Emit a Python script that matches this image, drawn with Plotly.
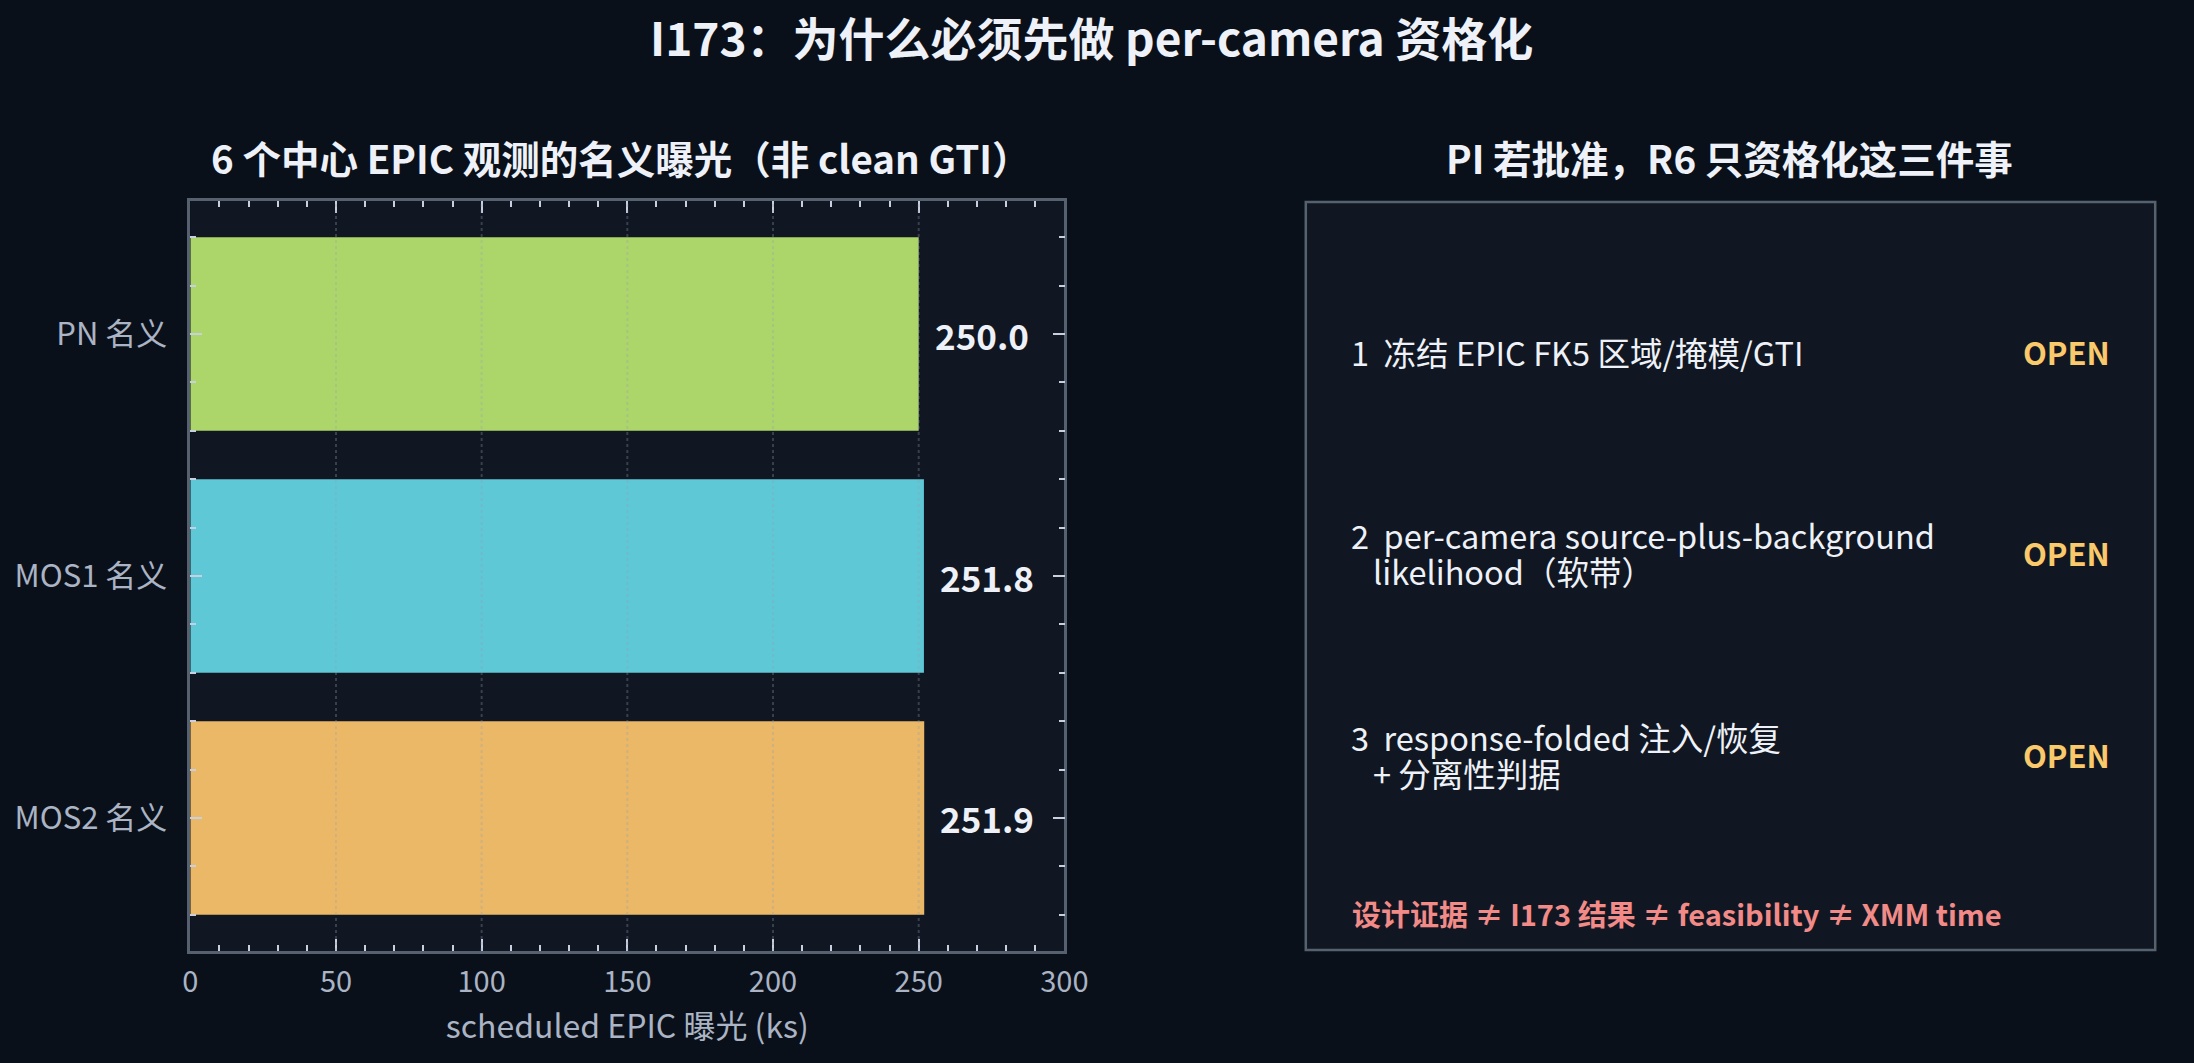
import plotly.graph_objects as go

# left panel data
cameras = ['PN 名义', 'MOS1 名义', 'MOS2 名义']
exposure_ks = [250.0, 251.8, 251.9]
bar_colors = ['#acd66a', '#5ec8d6', '#eab866']
x_ticks = [0, 50, 100, 150, 200, 250, 300]

# right panel text, one list of lines per item
items = [
    ['1  冻结 EPIC FK5 区域/掩模/GTI'],
    ['2  per-camera source-plus-background', 'likelihood（软带）'],
    ['3  response-folded 注入/恢复', '+ 分离性判据'],
]
item_status = ['OPEN', 'OPEN', 'OPEN']
footer = '设计证据 ≠ I173 结果 ≠ feasibility ≠ XMM time'

W, H = 2194, 1063
FONT = 'Noto Sans CJK SC'
BG = '#0a101a'
PANEL = '#111722'
EDGE = '#566170'
TICK = '#c8d0e0'
LABEL = '#aab4c4'
WHITE = '#eef2f8'

def px(x):
    return x / W

def py(y):
    return 1 - y / H

ypos = list(range(len(cameras)))

fig = go.Figure()
fig.add_trace(go.Bar(
    x=exposure_ks, y=ypos, orientation='h', width=0.8,
    marker=dict(color=bar_colors, line=dict(width=0)),
    hoverinfo='skip', showlegend=False,
))

for i, v in enumerate(exposure_ks):
    fig.add_annotation(x=v, y=ypos[i], xref='x', yref='y', text=f'{v:.1f}',
                       xanchor='left', yanchor='middle', xshift=14, showarrow=False,
                       font=dict(family=FONT, size=35, color=WHITE, weight=700))

# dotted grid drawn over the bars, like the original
for t in x_ticks[1:-1]:
    fig.add_shape(type='line', xref='x', yref='y domain', x0=t, x1=t, y0=0, y1=1,
                  line=dict(color='rgba(150,160,178,0.3)', width=2, dash='dot'), layer='above')

fig.update_xaxes(
    domain=[px(185), px(1072)], range=[0, 300],
    tickvals=x_ticks, ticks='inside', ticklen=12, tickwidth=2, tickcolor=TICK,
    minor=dict(dtick=10, ticks='inside', ticklen=6, tickwidth=2, tickcolor=TICK, showgrid=False),
    showline=True, linecolor=EDGE, linewidth=2.5, mirror='ticks',
    showgrid=False, zeroline=False,
    tickfont=dict(family=FONT, size=29, color=LABEL), ticklabelstandoff=3,
    title=dict(text='scheduled EPIC 曝光 (ks)', font=dict(family=FONT, size=32, color=LABEL), standoff=18),
)
fig.update_yaxes(
    domain=[py(951), py(201)], range=[2.55, -0.55],
    tickvals=ypos, ticktext=cameras, ticks='inside', ticklen=12, tickwidth=2, tickcolor=TICK,
    minor=dict(dtick=0.2, tick0=0, ticks='inside', ticklen=6, tickwidth=2, tickcolor=TICK, showgrid=False),
    showline=True, linecolor=EDGE, linewidth=2.5, mirror='ticks',
    showgrid=False, zeroline=False,
    tickfont=dict(family=FONT, size=31, color=LABEL), ticklabelstandoff=14,
)

# titles
fig.add_annotation(x=px(1100), y=py(36), xref='paper', yref='paper', text='I173：为什么必须先做 per-camera 资格化',
                   showarrow=False, xanchor='center', yanchor='middle',
                   font=dict(family=FONT, size=46, color=WHITE, weight=700))
fig.add_annotation(x=px(622), y=py(157), xref='paper', yref='paper', text='6 个中心 EPIC 观测的名义曝光（非 clean GTI）',
                   showarrow=False, xanchor='center', yanchor='middle',
                   font=dict(family=FONT, size=38.5, color=WHITE, weight=700))
fig.add_annotation(x=px(1747), y=py(157), xref='paper', yref='paper', text='PI 若批准，R6 只资格化这三件事',
                   showarrow=False, xanchor='center', yanchor='middle',
                   font=dict(family=FONT, size=38.5, color=WHITE, weight=700))

# right panel box
fig.add_shape(type='rect', xref='paper', yref='paper', x0=px(1317), x1=px(2179), y0=py(950), y1=py(202),
              fillcolor=PANEL, line=dict(color=EDGE, width=2.5), layer='below')

item_y = [351, 552, 754]
line_gap = 36
for lines, status, yc in zip(items, item_status, item_y):
    n = len(lines)
    for k, s in enumerate(lines):
        yl = yc + (k - (n - 1) / 2) * line_gap
        fig.add_annotation(x=px(1361 if k == 0 else 1383), y=py(yl), xref='paper', yref='paper', text=s,
                           showarrow=False, xanchor='left', yanchor='middle',
                           font=dict(family=FONT, size=32.5, color=WHITE))
    fig.add_annotation(x=px(2135), y=py(yc), xref='paper', yref='paper', text=status,
                       showarrow=False, xanchor='right', yanchor='middle',
                       font=dict(family=FONT, size=31, color='#f9c96b', weight=700))

fig.add_annotation(x=px(1362), y=py(913), xref='paper', yref='paper', text=footer,
                   showarrow=False, xanchor='left', yanchor='middle',
                   font=dict(family=FONT, size=29, color='#f28b88', weight=700))

fig.update_layout(
    width=W, height=H, autosize=False, margin=dict(l=0, r=0, t=0, b=0),
    paper_bgcolor=BG, plot_bgcolor=PANEL,
    bargap=0.2, showlegend=False,
)

# drop the default body margin so the figure sits at the page corner
fix_page = (
    "document.body.style.margin='0';"
    "document.documentElement.style.overflow='hidden';"
    "document.body.style.background='#0a101a';"
)
fig.write_html('out.html', config={'displayModeBar': False}, post_script=fix_page)
